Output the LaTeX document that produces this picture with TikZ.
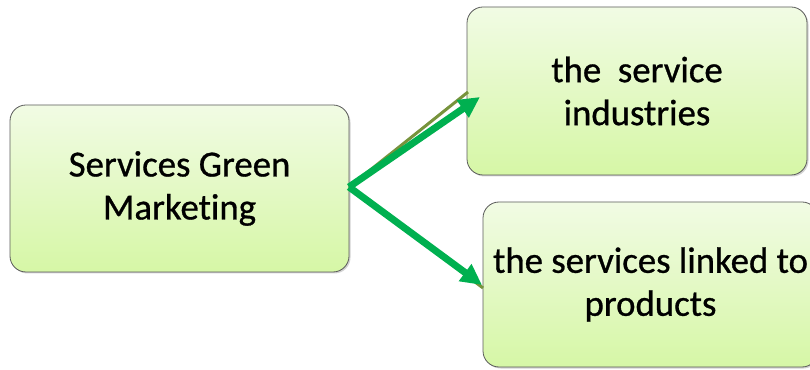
\documentclass[tikz,border=0pt]{standalone}
\usepackage{fontspec}
\setmainfont[Ligatures=NoCommon]{Carlito}
\newfontfamily\boxfont[Ligatures=NoCommon,FakeBold=0.8]{Carlito}
\usetikzlibrary{arrows.meta,shadows}
\definecolor{boxtop}{HTML}{F1FBE4}
\definecolor{boxbot}{HTML}{D6F7A6}
\definecolor{boxline}{HTML}{5A5A5A}
\definecolor{arrgreen}{HTML}{00B050}
\definecolor{olive}{HTML}{77933C}
\tikzset{
  gbox/.style={draw=boxline, line width=0.8pt, rounded corners=16pt,
    top color=boxtop, bottom color=boxbot, align=center,
    font=\boxfont\fontsize{36.8}{43}\selectfont, text=black, inner sep=0pt,
    drop shadow={shadow xshift=1.5pt, shadow yshift=-1.5pt, opacity=0.35}},
  oline/.style={draw=olive, line width=3pt},
  garrow/.style={draw=arrgreen, line width=7pt, -{Triangle[length=21pt,width=20pt]}}
}
\begin{document}
\begin{tikzpicture}[x=1pt,y=1pt]
\useasboundingbox (0,0) rectangle (810,369);
\node[gbox, minimum width=339pt, minimum height=167pt] (src) at (179.5,180.5) {Services Green\\Marketing};
\node[gbox, minimum width=340pt, minimum height=168pt] (ind) at (637,278) {the\ \ service\\industries};
\node[gbox, minimum width=335pt, minimum height=165pt] (lnk) at (650.5,84.5) {the services linked to\\products};
\coordinate (s) at (349,182);
\coordinate (o1) at (468,277);
\coordinate (o2) at (483,81);
\coordinate (t1) at (480,272);
\coordinate (t2) at (482,84);
\draw[oline] (s) -- (o1);
\draw[oline] (s) -- (o2);
\draw[garrow] (s) -- (t1);
\draw[garrow] (s) -- (t2);
\end{tikzpicture}
\end{document}
